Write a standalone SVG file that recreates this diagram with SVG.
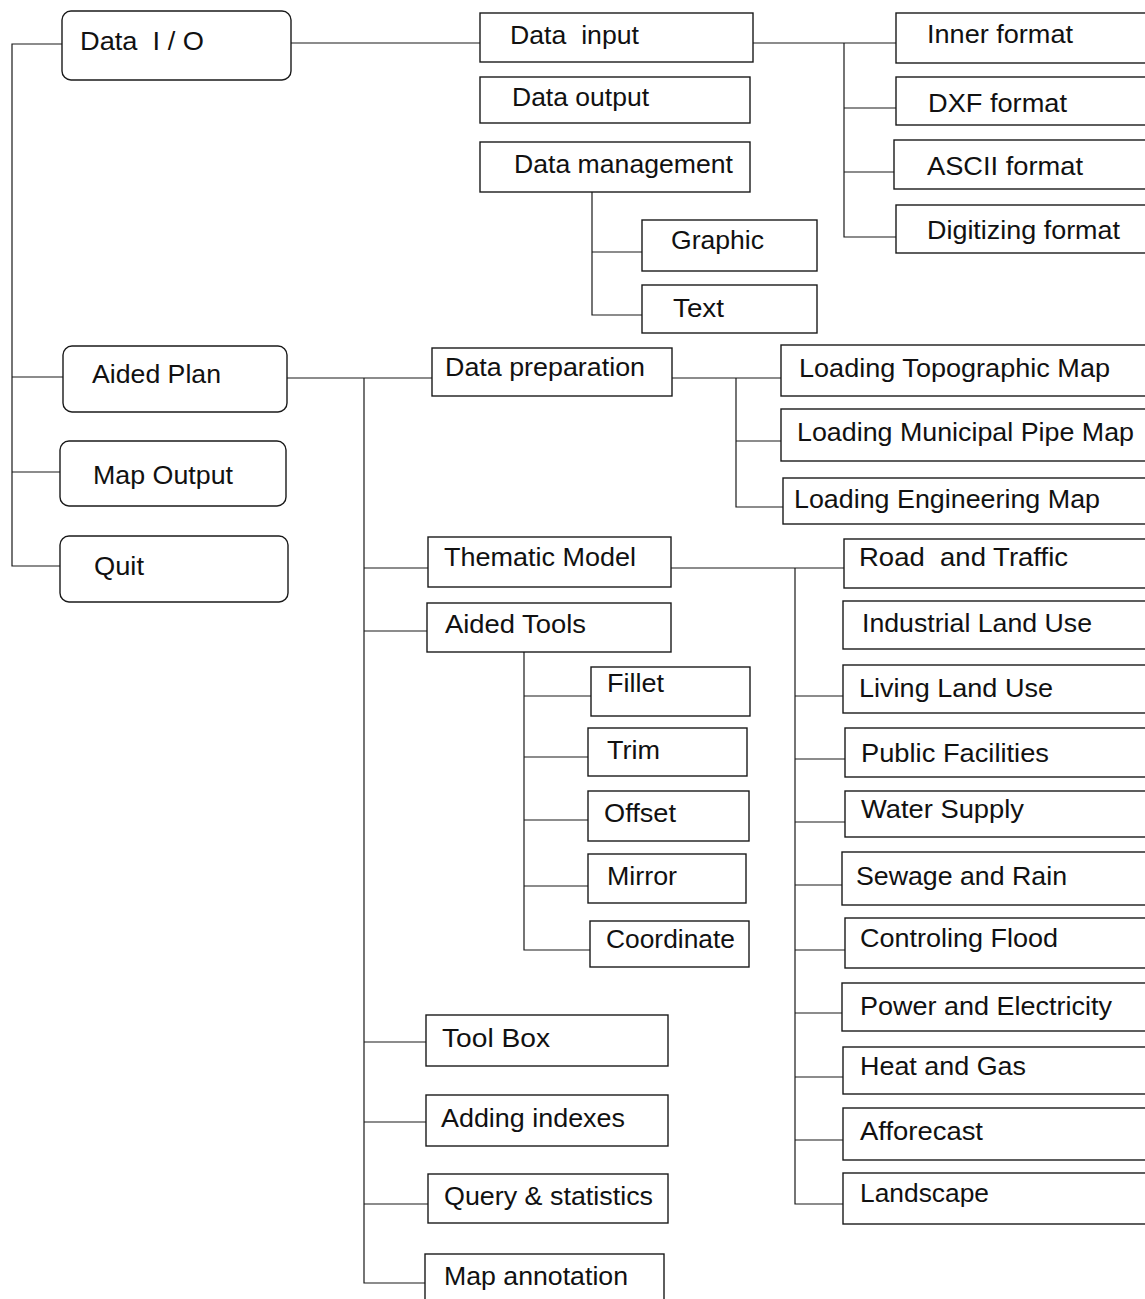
<svg xmlns="http://www.w3.org/2000/svg" width="1145" height="1299" viewBox="0 0 1145 1299">
<style>
.box{fill:#fff;stroke:#1a1a1a;stroke-width:1.4}
.c{fill:none;stroke:#1a1a1a;stroke-width:1.2}
.t{font-family:"Liberation Sans",Arial,sans-serif;font-size:26px;fill:#111}
</style>
<rect width="1145" height="1299" fill="#fff"/>
<g id="connectors">
<path class="c" d="M62,44 H12 V566 H60 M12,377 H63 M12,472 H60"/>
<path class="c" d="M290,43 H480"/>
<path class="c" d="M753,43 H896 M844,43 V237 H896 M844,108 H896 M844,172 H894"/>
<path class="c" d="M592,192 V315 H642 M592,252 H642"/>
<path class="c" d="M287,378 H432 M364,378 V1283 H425 M364,568 H428 M364,631 H427 M364,1042 H426 M364,1122 H426 M364,1204 H428"/>
<path class="c" d="M672,378 H781 M736,378 V507 H783 M736,441 H781"/>
<path class="c" d="M671,568 H844 M795,568 V1204 H844 M795,696 H843 M795,759 H845 M795,822 H845 M795,885 H842 M795,950 H845 M795,1013 H842 M795,1077 H843 M795,1140 H843"/>
<path class="c" d="M524,652 V950 H590 M524,696 H591 M524,757 H588 M524,820 H588 M524,886 H588"/>
</g>
<g id="n-dataio"><rect class="box" x="62" y="11" width="229" height="69" rx="9"/><text class="t" x="80" y="50" textLength="124" lengthAdjust="spacingAndGlyphs" xml:space="preserve">Data  I / O</text></g>
<g id="n-aidedplan"><rect class="box" x="63" y="346" width="224" height="66" rx="9"/><text class="t" x="92" y="383" textLength="129" lengthAdjust="spacingAndGlyphs">Aided Plan</text></g>
<g id="n-mapoutput"><rect class="box" x="60" y="441" width="226" height="65" rx="9"/><text class="t" x="93" y="484" textLength="140" lengthAdjust="spacingAndGlyphs">Map Output</text></g>
<g id="n-quit"><rect class="box" x="60" y="536" width="228" height="66" rx="9"/><text class="t" x="94" y="575" textLength="50" lengthAdjust="spacingAndGlyphs">Quit</text></g>

<g id="n-datainput"><rect class="box" x="480" y="13" width="273" height="49"/><text class="t" x="510" y="44" textLength="129" lengthAdjust="spacingAndGlyphs" xml:space="preserve">Data  input</text></g>
<g id="n-dataoutput"><rect class="box" x="480" y="77" width="270" height="46"/><text class="t" x="512" y="106" textLength="137" lengthAdjust="spacingAndGlyphs">Data output</text></g>
<g id="n-datamgmt"><rect class="box" x="480" y="142" width="270" height="50"/><text class="t" x="514" y="173" textLength="219" lengthAdjust="spacingAndGlyphs">Data management</text></g>
<g id="n-graphic"><rect class="box" x="642" y="220" width="175" height="51"/><text class="t" x="671" y="249" textLength="93" lengthAdjust="spacingAndGlyphs">Graphic</text></g>
<g id="n-text"><rect class="box" x="642" y="285" width="175" height="48"/><text class="t" x="673" y="317" textLength="51" lengthAdjust="spacingAndGlyphs">Text</text></g>

<g id="n-inner"><rect class="box" x="896" y="13" width="260" height="50"/><text class="t" x="927" y="43" textLength="146" lengthAdjust="spacingAndGlyphs">Inner format</text></g>
<g id="n-dxf"><rect class="box" x="896" y="77" width="260" height="48"/><text class="t" x="928" y="112" textLength="139" lengthAdjust="spacingAndGlyphs">DXF format</text></g>
<g id="n-ascii"><rect class="box" x="894" y="140" width="262" height="49"/><text class="t" x="927" y="175" textLength="156" lengthAdjust="spacingAndGlyphs">ASCII format</text></g>
<g id="n-digit"><rect class="box" x="896" y="205" width="260" height="48"/><text class="t" x="927" y="239" textLength="193" lengthAdjust="spacingAndGlyphs">Digitizing format</text></g>

<g id="n-dataprep"><rect class="box" x="432" y="348" width="240" height="48"/><text class="t" x="445" y="376" textLength="200" lengthAdjust="spacingAndGlyphs">Data preparation</text></g>
<g id="n-topo"><rect class="box" x="781" y="345" width="375" height="51"/><text class="t" x="799" y="377" textLength="311" lengthAdjust="spacingAndGlyphs">Loading Topographic Map</text></g>
<g id="n-pipe"><rect class="box" x="781" y="409" width="375" height="52"/><text class="t" x="797" y="441" textLength="337" lengthAdjust="spacingAndGlyphs">Loading Municipal Pipe Map</text></g>
<g id="n-eng"><rect class="box" x="783" y="478" width="373" height="46"/><text class="t" x="794" y="508" textLength="306" lengthAdjust="spacingAndGlyphs">Loading Engineering Map</text></g>

<g id="n-thematic"><rect class="box" x="428" y="537" width="243" height="50"/><text class="t" x="444" y="566" textLength="192" lengthAdjust="spacingAndGlyphs">Thematic Model</text></g>
<g id="n-aidedtools"><rect class="box" x="427" y="603" width="244" height="49"/><text class="t" x="445" y="633" textLength="141" lengthAdjust="spacingAndGlyphs">Aided Tools</text></g>
<g id="n-fillet"><rect class="box" x="591" y="667" width="159" height="49"/><text class="t" x="607" y="692" textLength="57" lengthAdjust="spacingAndGlyphs">Fillet</text></g>
<g id="n-trim"><rect class="box" x="588" y="728" width="159" height="48"/><text class="t" x="607" y="759" textLength="53" lengthAdjust="spacingAndGlyphs">Trim</text></g>
<g id="n-offset"><rect class="box" x="588" y="791" width="161" height="50"/><text class="t" x="604" y="822" textLength="72" lengthAdjust="spacingAndGlyphs">Offset</text></g>
<g id="n-mirror"><rect class="box" x="588" y="854" width="158" height="49"/><text class="t" x="607" y="885" textLength="70" lengthAdjust="spacingAndGlyphs">Mirror</text></g>
<g id="n-coord"><rect class="box" x="590" y="921" width="159" height="46"/><text class="t" x="606" y="948" textLength="129" lengthAdjust="spacingAndGlyphs">Coordinate</text></g>

<g id="n-toolbox"><rect class="box" x="426" y="1015" width="242" height="51"/><text class="t" x="442" y="1047" textLength="108" lengthAdjust="spacingAndGlyphs">Tool Box</text></g>
<g id="n-indexes"><rect class="box" x="426" y="1095" width="242" height="51"/><text class="t" x="441" y="1127" textLength="184" lengthAdjust="spacingAndGlyphs">Adding indexes</text></g>
<g id="n-query"><rect class="box" x="428" y="1174" width="240" height="49"/><text class="t" x="444" y="1205" textLength="209" lengthAdjust="spacingAndGlyphs">Query &amp; statistics</text></g>
<g id="n-annot"><rect class="box" x="425" y="1254" width="239" height="60"/><text class="t" x="444" y="1285" textLength="184" lengthAdjust="spacingAndGlyphs">Map annotation</text></g>

<g id="n-road"><rect class="box" x="844" y="539" width="312" height="49"/><text class="t" x="859" y="566" textLength="209" lengthAdjust="spacingAndGlyphs" xml:space="preserve">Road  and Traffic</text></g>
<g id="n-industrial"><rect class="box" x="843" y="601" width="313" height="48"/><text class="t" x="862" y="632" textLength="230" lengthAdjust="spacingAndGlyphs">Industrial Land Use</text></g>
<g id="n-living"><rect class="box" x="843" y="665" width="313" height="48"/><text class="t" x="859" y="697" textLength="194" lengthAdjust="spacingAndGlyphs">Living Land Use</text></g>
<g id="n-public"><rect class="box" x="845" y="728" width="311" height="49"/><text class="t" x="861" y="762" textLength="188" lengthAdjust="spacingAndGlyphs">Public Facilities</text></g>
<g id="n-water"><rect class="box" x="845" y="791" width="311" height="46"/><text class="t" x="861" y="818" textLength="163" lengthAdjust="spacingAndGlyphs">Water Supply</text></g>
<g id="n-sewage"><rect class="box" x="842" y="852" width="314" height="53"/><text class="t" x="856" y="885" textLength="211" lengthAdjust="spacingAndGlyphs">Sewage and Rain</text></g>
<g id="n-flood"><rect class="box" x="845" y="918" width="311" height="50"/><text class="t" x="860" y="947" textLength="198" lengthAdjust="spacingAndGlyphs">Controling Flood</text></g>
<g id="n-power"><rect class="box" x="842" y="983" width="314" height="48"/><text class="t" x="860" y="1015" textLength="252" lengthAdjust="spacingAndGlyphs">Power and Electricity</text></g>
<g id="n-heat"><rect class="box" x="843" y="1047" width="313" height="47"/><text class="t" x="860" y="1075" textLength="166" lengthAdjust="spacingAndGlyphs">Heat and Gas</text></g>
<g id="n-afforecast"><rect class="box" x="843" y="1108" width="313" height="52"/><text class="t" x="860" y="1140" textLength="123" lengthAdjust="spacingAndGlyphs">Afforecast</text></g>
<g id="n-landscape"><rect class="box" x="843" y="1173" width="313" height="51"/><text class="t" x="860" y="1202" textLength="129" lengthAdjust="spacingAndGlyphs">Landscape</text></g>
</svg>
